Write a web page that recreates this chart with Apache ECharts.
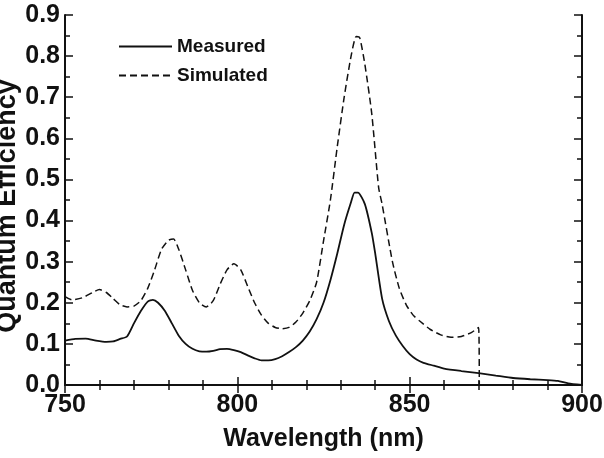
<!DOCTYPE html>
<html>
<head>
<meta charset="utf-8">
<script src="https://cdn.jsdelivr.net/npm/echarts@6/dist/echarts.min.js"></script>
<style>
  html, body { margin: 0; padding: 0; background: #fff; }
  #chart { width: 604px; height: 458px; }
</style>
</head>
<body>
<div id="chart"></div>
<script>
// measured quantum efficiency (wavelength nm, QE)
const measuredX = [750, 753, 756, 759, 762, 764, 766, 768, 770, 772, 774, 775.5, 777, 779, 781, 783, 785, 787, 789, 791, 793, 795, 797, 799, 801, 803, 805, 807, 809, 811, 813, 815, 817, 819, 821, 823, 825, 827, 829, 831, 833, 834, 835, 837, 839, 840, 842, 844, 846, 848, 850, 852, 854, 857, 860, 865, 870, 875, 880, 885, 890, 893, 896, 900];
const measuredY = [0.108, 0.112, 0.113, 0.108, 0.105, 0.106, 0.112, 0.118, 0.15, 0.18, 0.203, 0.207, 0.2, 0.18, 0.15, 0.12, 0.1, 0.088, 0.082, 0.081, 0.083, 0.087, 0.088, 0.085, 0.08, 0.072, 0.065, 0.06, 0.06, 0.063, 0.07, 0.08, 0.092, 0.108, 0.13, 0.16, 0.2, 0.255, 0.32, 0.39, 0.445, 0.468, 0.468, 0.44, 0.37, 0.32, 0.21, 0.155, 0.12, 0.095, 0.075, 0.062, 0.054, 0.047, 0.04, 0.034, 0.029, 0.023, 0.017, 0.014, 0.012, 0.01, 0.004, 0.0];

// simulated quantum efficiency
const simulatedX = [750, 752, 755, 758, 760, 762, 764, 766, 768, 770, 772, 774, 776, 778, 780, 781.5, 783, 785, 787, 789, 791, 793, 795, 797, 799, 801, 803, 805, 807, 809, 811, 813, 815, 817, 819, 821, 823, 825, 827, 829, 831, 833, 834.5, 835.5, 837, 839, 841, 842, 845, 847, 849, 851, 853, 856, 859, 862, 865, 868, 870, 870.2];
const simulatedY = [0.215, 0.207, 0.212, 0.225, 0.232, 0.225, 0.21, 0.195, 0.19, 0.192, 0.205, 0.235, 0.28, 0.33, 0.352, 0.355, 0.33, 0.28, 0.23, 0.2, 0.19, 0.205, 0.245, 0.28, 0.295, 0.28, 0.24, 0.2, 0.17, 0.15, 0.14, 0.137, 0.14, 0.153, 0.175, 0.205, 0.25, 0.35, 0.45, 0.58, 0.7, 0.8, 0.848, 0.845, 0.78, 0.66, 0.48, 0.44, 0.3, 0.235, 0.195, 0.17, 0.155, 0.135, 0.122, 0.116, 0.118, 0.128, 0.14, 0.0];

const xTicks = [750, 800, 850, 900];
const yTicks = [0.0, 0.1, 0.2, 0.3, 0.4, 0.5, 0.6, 0.7, 0.8, 0.9];

const font = "Liberation Sans";
const ink = "#111";

const pairs = (xs, ys) => xs.map((x, i) => [x, ys[i]]);

const baseAxis = {
  axisLine: { lineStyle: { color: ink, width: 2 } },
  axisTick: { inside: true, length: 8, lineStyle: { color: ink, width: 1.5 } },
  minorTick: { show: true, length: 5, lineStyle: { color: ink, width: 1.5 } },
  splitLine: { show: false },
};

const chart = echarts.init(document.getElementById("chart"));
chart.setOption({
  animation: false,
  grid: { left: 65, right: 22, top: 15, bottom: 73, containLabel: false, outerBoundsMode: "none" },
  legend: {
    orient: "vertical",
    left: 113,
    top: 32,
    itemWidth: 53,
    itemHeight: 14,
    itemGap: 10,
    itemStyle: { opacity: 0 },
    textStyle: { fontFamily: font, fontWeight: "bold", fontSize: 19, color: ink },
    data: ["Measured", "Simulated"],
  },
  xAxis: [
    {
      ...baseAxis,
      type: "value",
      min: xTicks[0],
      max: xTicks[xTicks.length - 1],
      interval: 50,
      minorTick: { ...baseAxis.minorTick, splitNumber: 5 },
      axisLabel: { fontFamily: font, fontWeight: "bold", fontSize: 25, color: ink, margin: 8 },
      name: "Wavelength (nm)",
      nameLocation: "middle",
      nameGap: 42,
      nameMoveOverlap: false,
      nameTextStyle: { fontFamily: font, fontWeight: "bold", fontSize: 25, color: ink },
    },
    {
      ...baseAxis,
      type: "value",
      position: "top",
      min: xTicks[0],
      max: xTicks[xTicks.length - 1],
      interval: 50,
      minorTick: { ...baseAxis.minorTick, splitNumber: 5 },
      axisLabel: { show: false },
    },
  ],
  yAxis: [
    {
      ...baseAxis,
      type: "value",
      min: yTicks[0],
      max: yTicks[yTicks.length - 1],
      interval: 0.1,
      minorTick: { ...baseAxis.minorTick, splitNumber: 2 },
      axisLabel: {
        fontFamily: font, fontWeight: "bold", fontSize: 25, color: ink, margin: 5,
        formatter: (v) => v.toFixed(1),
      },
      name: "Quantum Efficiency",
      nameLocation: "middle",
      nameGap: 44,
      nameMoveOverlap: false,
      nameTextStyle: { fontFamily: font, fontWeight: "bold", fontSize: 27, color: ink, padding: [0, 12, 0, 0] },
    },
    {
      ...baseAxis,
      type: "value",
      position: "right",
      min: yTicks[0],
      max: yTicks[yTicks.length - 1],
      interval: 0.1,
      minorTick: { ...baseAxis.minorTick, splitNumber: 2 },
      axisLabel: { show: false },
    },
  ],
  series: [
    {
      name: "Measured",
      type: "line",
      symbol: "none",
      smooth: 0.2,
      data: pairs(measuredX, measuredY),
      lineStyle: { color: ink, width: 1.8, type: "solid" },
      itemStyle: { color: ink },
    },
    {
      name: "Simulated",
      type: "line",
      symbol: "none",
      smooth: 0.2,
      data: pairs(simulatedX, simulatedY),
      lineStyle: { color: ink, width: 1.5, type: [7, 4] },
      itemStyle: { color: ink },
    },
  ],
});
</script>
</body>
</html>
